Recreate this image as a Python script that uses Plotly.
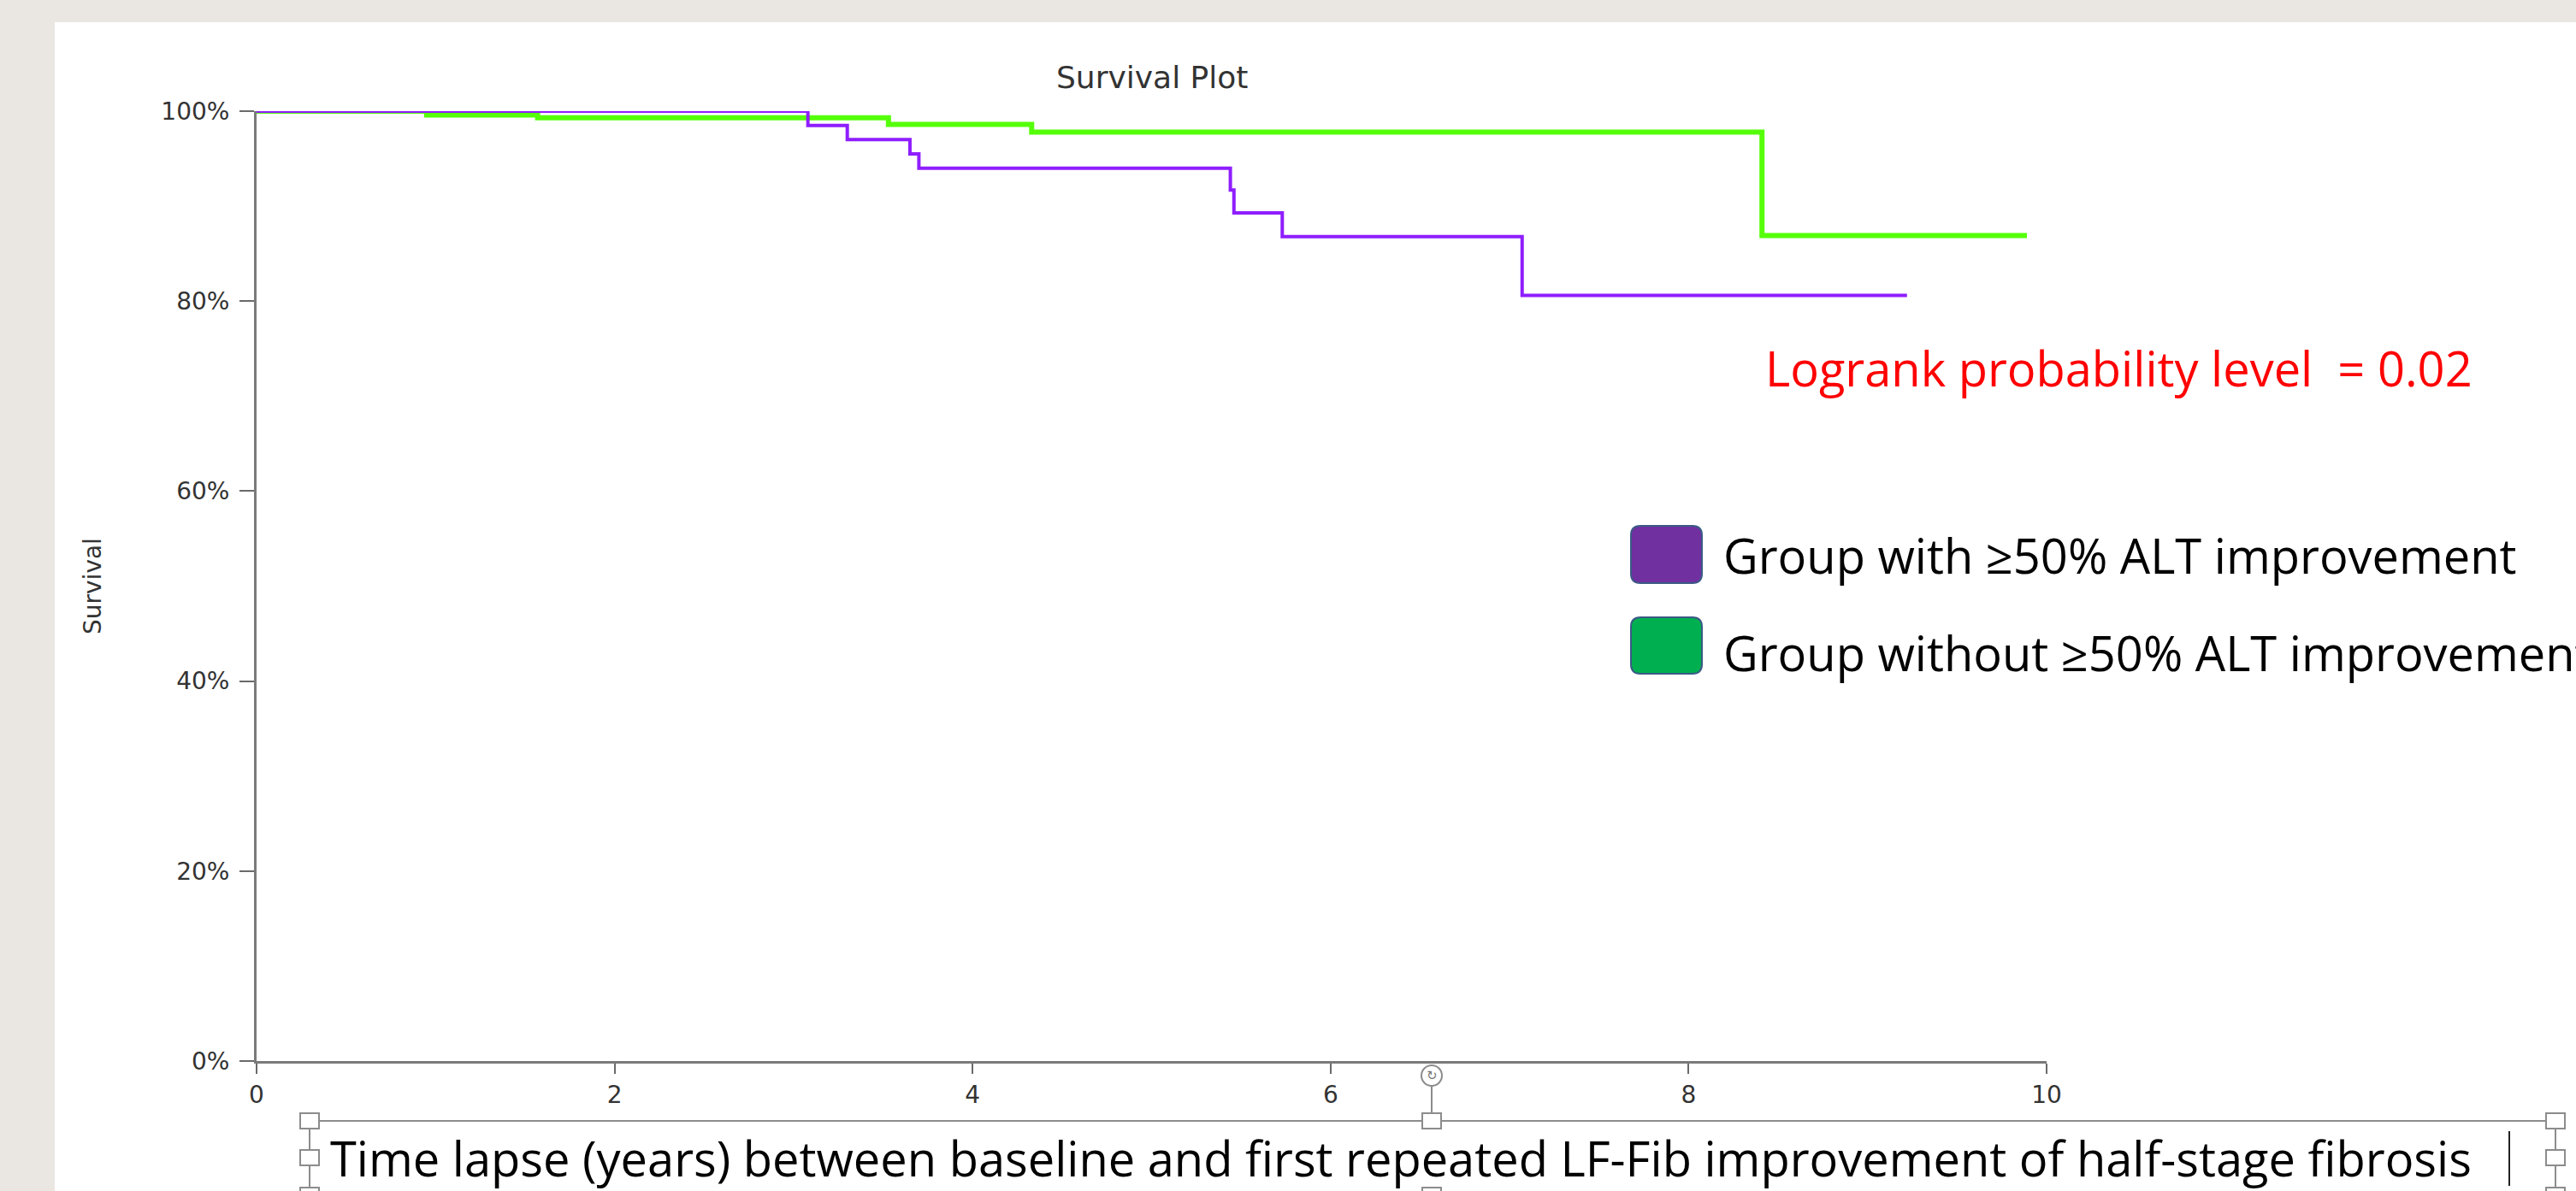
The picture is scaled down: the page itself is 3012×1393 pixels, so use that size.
import plotly.graph_objects as go

# ---------------- data ----------------
purple_name = "Group with ≥50% ALT improvement"
purple_times = [0, 3.08, 3.30, 3.65, 3.70, 5.44, 5.46, 5.73, 7.07, 9.22]
purple_surv = [100, 98.5, 97.0, 95.5, 94.0, 91.7, 89.3, 86.8, 80.6, 80.6]

green_name = "Group without ≥50% ALT improvement"
green_times = [0, 0.95, 1.57, 3.53, 4.33, 8.41, 9.89]
green_surv = [100, 99.6, 99.3, 98.6, 97.8, 86.9, 86.9]

x_ticks = [0, 2, 4, 6, 8, 10]
y_ticks = [0, 20, 40, 60, 80, 100]

title_text = "Survival Plot"
y_title = "Survival"
x_title = "Time lapse (years) between baseline and first repeated LF-Fib improvement of half-stage fibrosis"
logrank_text = "Logrank probability level  = 0.02"

# ---------------- layout geometry (pixels) ----------------
W, H = 3012, 1393
PL, PR, PT, PB = 300, 2393, 130, 1241


def px(x):
    return (x - PL) / (PR - PL)


def py(y):
    return (PB - y) / (PB - PT)


CHART_FONT = "DejaVu Sans"
PPT_FONT = "Open Sans"
PPT_SIZE = 56

fig = go.Figure()
fig.add_trace(go.Scatter(x=green_times, y=green_surv, mode="lines", line_shape="hv",
                         line=dict(color="#55FF0A", width=6), name=green_name,
                         showlegend=False))
fig.add_trace(go.Scatter(x=purple_times, y=purple_surv, mode="lines", line_shape="hv",
                         line=dict(color="#8F1EFF", width=4), name=purple_name,
                         showlegend=False))

shapes = []
# white slide panel
shapes.append(dict(type="rect", xref="paper", yref="paper", layer="below",
                   x0=px(64), x1=px(W + 5), y0=py(H + 5), y1=py(26),
                   fillcolor="white", line=dict(width=0)))


def rounded_box(x0, y0, x1, y1, r, fill, line):
    X0, X1 = px(x0), px(x1)
    Y0, Y1 = py(y0), py(y1)
    rx = r / (PR - PL)
    ry = r / (PB - PT)
    path = (f"M {X0 + rx},{Y0} L {X1 - rx},{Y0} Q {X1},{Y0} {X1},{Y0 - ry} "
            f"L {X1},{Y1 + ry} Q {X1},{Y1} {X1 - rx},{Y1} "
            f"L {X0 + rx},{Y1} Q {X0},{Y1} {X0},{Y1 + ry} "
            f"L {X0},{Y0 - ry} Q {X0},{Y0} {X0 + rx},{Y0} Z")
    return dict(type="path", xref="paper", yref="paper", path=path,
                fillcolor=fill, line=dict(color=line, width=2))


shapes.append(rounded_box(1907, 615, 1990, 682, 11, "#7030A0", "#3C5A86"))
shapes.append(rounded_box(1907, 722, 1990, 788, 11, "#00B050", "#3C5A86"))

# text-box selection frame (PowerPoint)
frame_col = "#8C8C8C"
shapes.append(dict(type="line", xref="paper", yref="paper", x0=px(362), x1=px(2988),
                   y0=py(1311), y1=py(1311), line=dict(color=frame_col, width=2)))
shapes.append(dict(type="line", xref="paper", yref="paper", x0=px(362), x1=px(362),
                   y0=py(1311), y1=py(H + 5), line=dict(color=frame_col, width=2)))
shapes.append(dict(type="line", xref="paper", yref="paper", x0=px(2988), x1=px(2988),
                   y0=py(1311), y1=py(H + 5), line=dict(color=frame_col, width=2)))
shapes.append(dict(type="line", xref="paper", yref="paper", x0=px(1674), x1=px(1674),
                   y0=py(1270), y1=py(1302), line=dict(color=frame_col, width=2)))
for (hx, hy) in [(362, 1311), (362, 1354), (362, 1398), (1674, 1311), (1674, 1398),
                 (2988, 1311), (2988, 1354), (2988, 1398)]:
    shapes.append(dict(type="rect", xref="paper", yref="paper",
                       x0=px(hx - 11), x1=px(hx + 11), y0=py(hy - 9), y1=py(hy + 9),
                       fillcolor="white", line=dict(color=frame_col, width=2)))
shapes.append(dict(type="circle", xref="paper", yref="paper",
                   x0=px(1662), x1=px(1686), y0=py(1246), y1=py(1270),
                   fillcolor="white", line=dict(color=frame_col, width=2)))
# text caret
shapes.append(dict(type="line", xref="paper", yref="paper", x0=px(2934), x1=px(2934),
                   y0=py(1323), y1=py(1387), line=dict(color="#222222", width=2)))

annotations = [
    dict(text=title_text, x=0.5, y=py(90), xref="paper", yref="paper",
         showarrow=False, xanchor="center", yanchor="middle",
         font=dict(family=CHART_FONT, size=36, color="#333333")),
    dict(text=y_title, x=px(108), y=py(686), xref="paper", yref="paper",
         showarrow=False, xanchor="center", yanchor="middle", textangle=-90,
         font=dict(family=CHART_FONT, size=28, color="#333333")),
    dict(text=logrank_text, x=px(2062), y=py(430), xref="paper", yref="paper",
         showarrow=False, xanchor="left", yanchor="middle",
         font=dict(family=PPT_FONT, size=PPT_SIZE, color="#FF0000")),
    dict(text=purple_name, x=px(2013), y=py(649), xref="paper", yref="paper",
         showarrow=False, xanchor="left", yanchor="middle",
         font=dict(family=PPT_FONT, size=PPT_SIZE, color="#000000")),
    dict(text=green_name, x=px(2013), y=py(763), xref="paper", yref="paper",
         showarrow=False, xanchor="left", yanchor="middle",
         font=dict(family=PPT_FONT, size=PPT_SIZE, color="#000000")),
    dict(text=x_title, x=px(384), y=py(1354), xref="paper", yref="paper",
         showarrow=False, xanchor="left", yanchor="middle",
         font=dict(family=PPT_FONT, size=PPT_SIZE, color="#000000")),
    dict(text="↻", x=px(1674), y=py(1258), xref="paper", yref="paper",
         showarrow=False, xanchor="center", yanchor="middle",
         font=dict(family="DejaVu Sans", size=15, color="#777777")),
]

fig.update_layout(
    width=W, height=H, autosize=False,
    margin=dict(l=PL, r=W - PR, t=PT, b=H - PB, pad=0),
    paper_bgcolor="#EAE6E2", plot_bgcolor="white",
    shapes=shapes, annotations=annotations, showlegend=False,
    xaxis=dict(range=[0, 10], tickvals=x_ticks, ticktext=[str(v) for v in x_ticks],
               showgrid=False, zeroline=False, showline=True, linecolor="#7A7A7A",
               linewidth=3, ticks="outside", ticklen=12, tickwidth=2, tickcolor="#6A6A6A",
               tickfont=dict(family=CHART_FONT, size=28, color="#333333"),
               fixedrange=True),
    yaxis=dict(range=[0, 100], tickvals=y_ticks, ticktext=[f"{v}%" for v in y_ticks],
               showgrid=False, zeroline=False, showline=True, linecolor="#7A7A7A",
               linewidth=3, ticks="outside", ticklen=17, tickwidth=2, tickcolor="#6A6A6A",
               ticklabelstandoff=6,
               tickfont=dict(family=CHART_FONT, size=28, color="#333333"),
               fixedrange=True),
)

fig.write_html("out.html", config={"displayModeBar": False},
               post_script="document.body.style.margin='0';document.body.style.overflow='hidden';")
